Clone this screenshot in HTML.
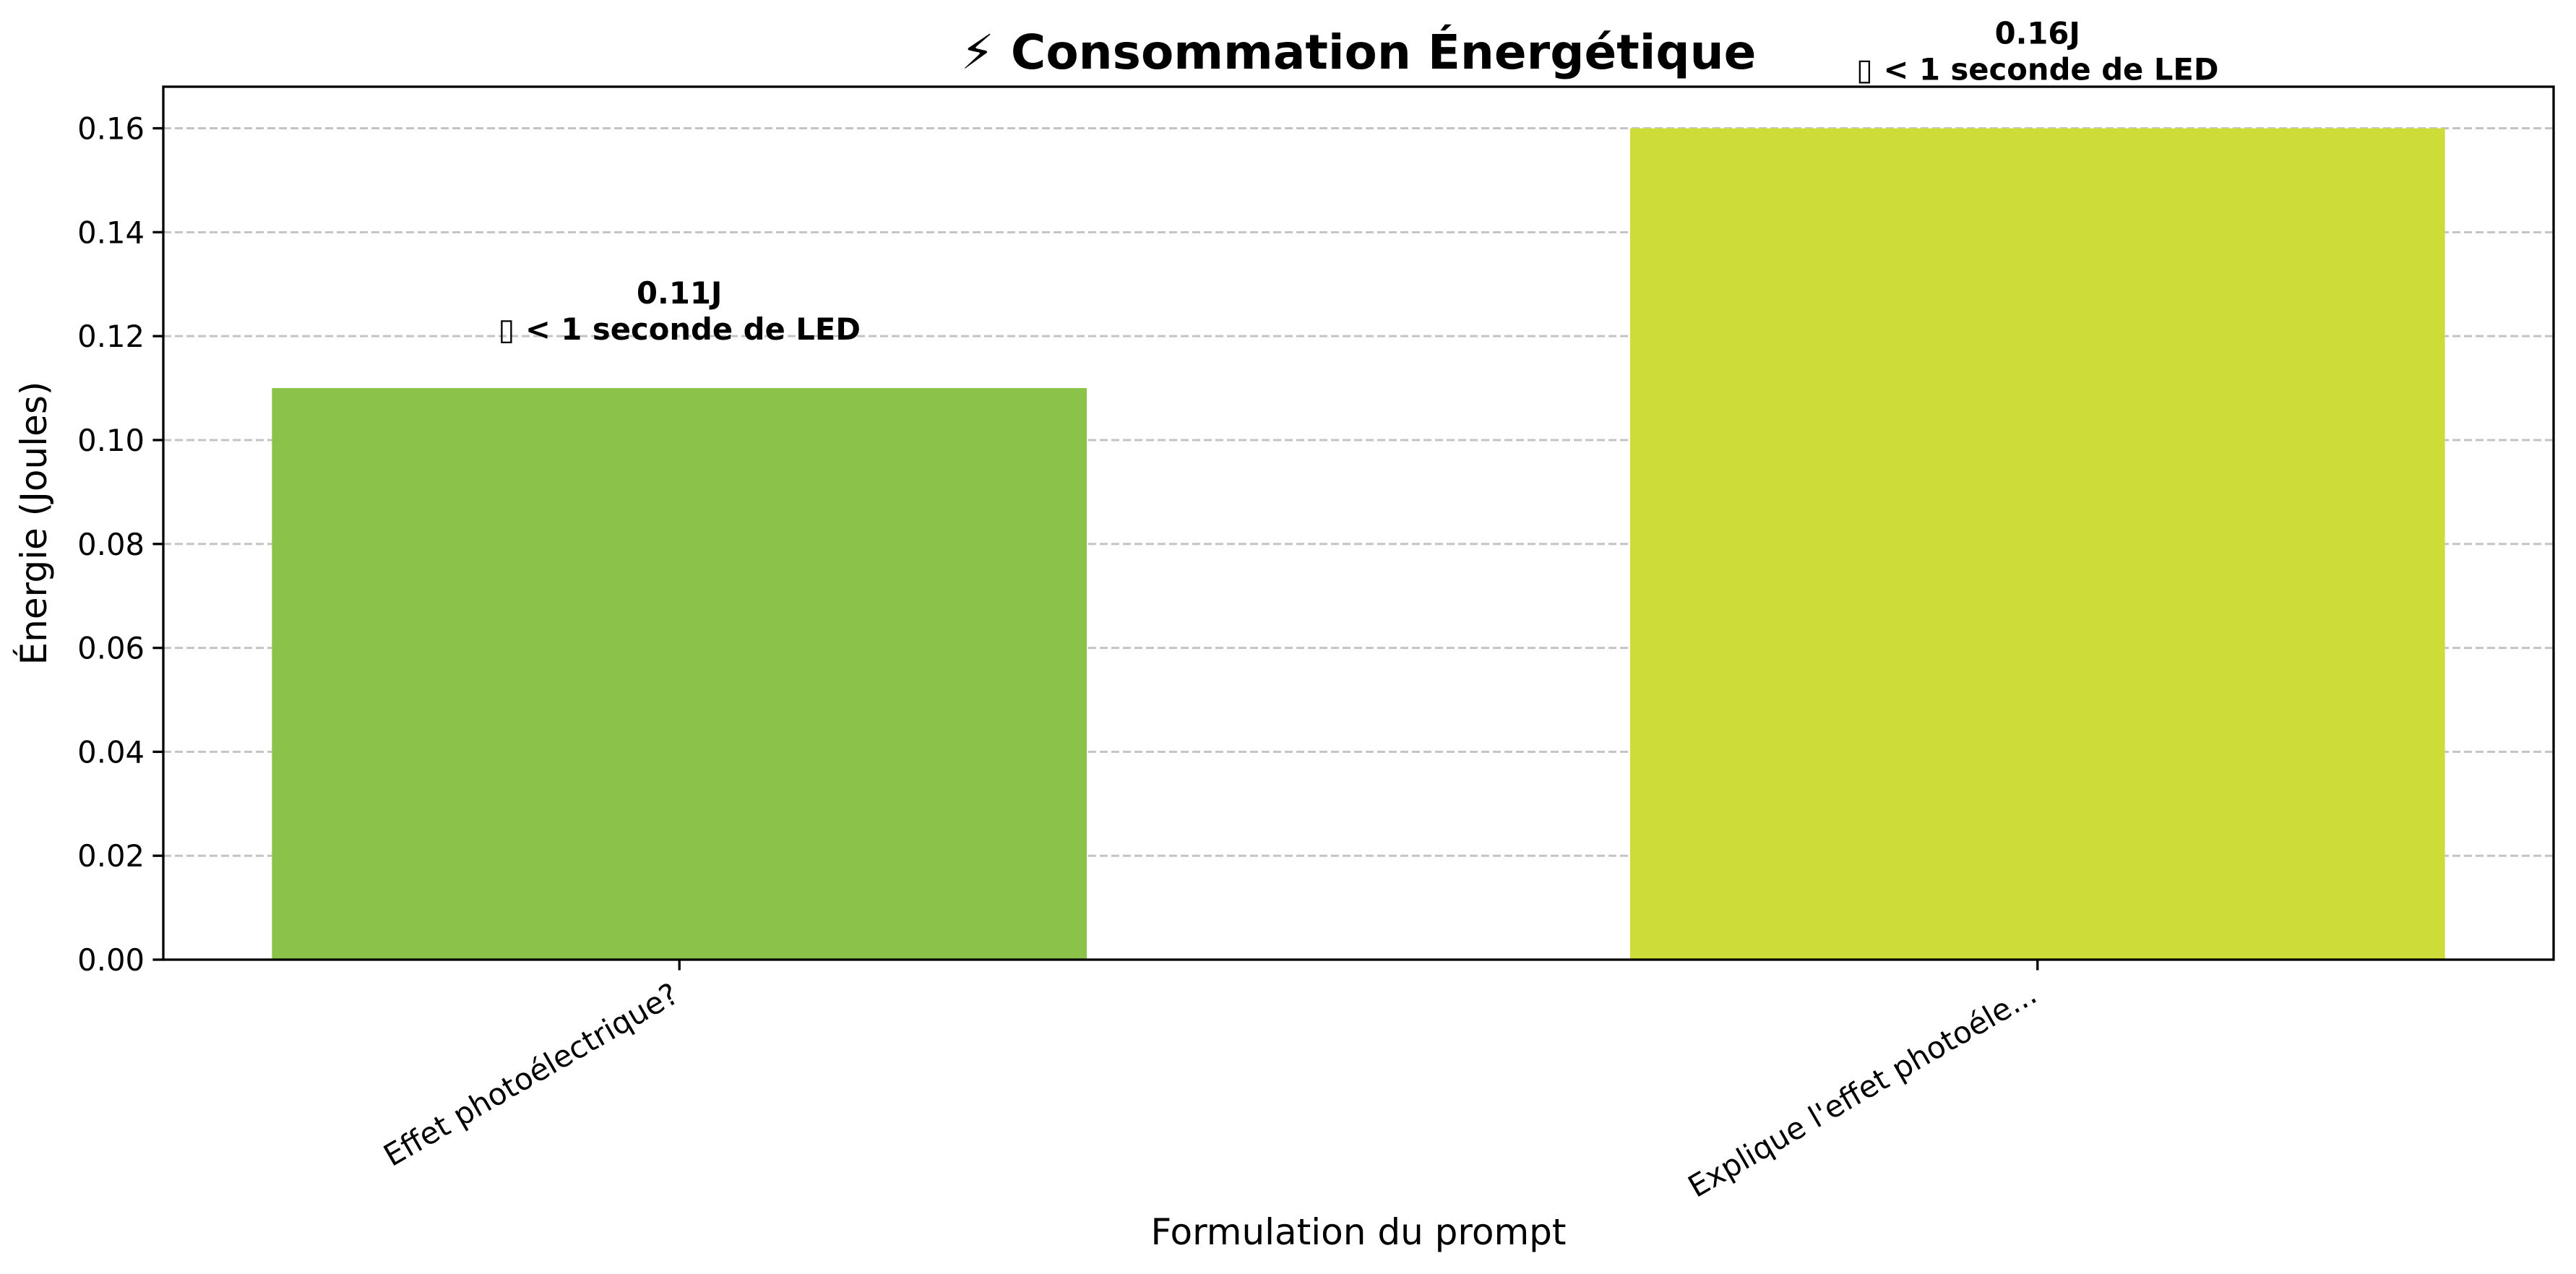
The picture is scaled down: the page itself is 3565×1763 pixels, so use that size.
<!DOCTYPE html>
<html><head><meta charset="utf-8"><style>
html,body{margin:0;padding:0;background:#fff;}
svg{display:block;}
text{font-family:"DejaVu Sans","Liberation Sans",sans-serif;}
</style></head><body>
<svg id="chart" width="3565" height="1763" viewBox="0 0 3565 1763" xmlns="http://www.w3.org/2000/svg">
<rect width="3565" height="1763" fill="#fff"/>
<text x="1880" y="95" text-anchor="middle" font-size="66" font-weight="bold">⚡ Consommation Énergétique</text>
<g id="grid"></g>
<g id="bars"></g>
<g id="annotations"></g>
<g id="yaxis"></g>
<g id="xaxis"></g>
<rect x="226" y="120" width="3308" height="1208" fill="none" stroke="#000" stroke-width="3.3"/>
<text transform="translate(64,724) rotate(-90)" text-anchor="middle" font-size="50">Énergie (Joules)</text>
<text x="1880" y="1722" text-anchor="middle" font-size="50">Formulation du prompt</text>
</svg>
<script>
const categories = ["Effet photoélectrique?", "Explique l'effet photoéle..."];
const energyValues = [0.11, 0.16];
const valueLabels = ["0.11J", "0.16J"];
const comparisonLabels = ["▯ < 1 seconde de LED", "▯ < 1 seconde de LED"];
const yTicks = [0, 0.02, 0.04, 0.06, 0.08, 0.10, 0.12, 0.14, 0.16];
const barColors = ["#8bc34a", "#cddc39"];

const NS = "http://www.w3.org/2000/svg";
const plotL = 226, plotR = 3534, plotT = 120, plotB = 1328;
const xMin = -0.38, xMax = 1.38, yMin = 0, yMax = 0.168;
function xs(v){ return plotL + (v - xMin) / (xMax - xMin) * (plotR - plotL); }
function ys(v){ return plotB - (v - yMin) / (yMax - yMin) * (plotB - plotT); }
function mk(tag, attrs, parent){
  const e = document.createElementNS(NS, tag);
  for (const k in attrs) e.setAttribute(k, attrs[k]);
  parent.appendChild(e);
  return e;
}
const grid = document.getElementById('grid');
const yaxis = document.getElementById('yaxis');
yTicks.forEach(t => {
  const y = ys(t);
  if (t > 0) {
    const g = mk('line', {x1: plotL, x2: plotR, y1: y, y2: y, stroke: '#c4c4c4', 'stroke-width': 3, 'stroke-dasharray': '11 5'}, grid);
    
    
  }
  const tk = mk('line', {x1: plotL - 14.6, x2: plotL, y1: y, y2: y, stroke: '#000', 'stroke-width': 3.3}, yaxis);
  
  
  const lb = mk('text', {x: plotL - 26, y: y + 15, 'text-anchor': 'end', 'font-size': 41.7}, yaxis);
  lb.textContent = t.toFixed(2);
  
  
});
const bars = document.getElementById('bars');
const ann = document.getElementById('annotations');
const xaxis = document.getElementById('xaxis');
const barW = 0.6;
categories.forEach((c, i) => {
  const x0 = xs(i - barW / 2), x1 = xs(i + barW / 2);
  const b = mk('rect', {x: x0, y: ys(energyValues[i]), width: x1 - x0, height: ys(0) - ys(energyValues[i]), fill: barColors[i]}, bars);
  
  
  const cx = xs(i);
  const top = ys(energyValues[i]);
  const a1 = mk('text', {x: cx, y: top - 117, 'text-anchor': 'middle', 'font-size': 41.7, 'font-weight': 'bold'}, ann);
  a1.textContent = valueLabels[i];
  
  
  const a2 = mk('text', {x: cx, y: top - 67, 'text-anchor': 'middle', 'font-size': 41.7, 'font-weight': 'bold'}, ann);
  a2.textContent = comparisonLabels[i];
  
  
  const tk = mk('line', {x1: cx, x2: cx, y1: plotB, y2: plotB + 14.6, stroke: '#000', 'stroke-width': 3.3}, xaxis);
  
  
  const lb = mk('text', {transform: 'translate(' + (cx + 2) + ',' + (plotB + 56) + ') rotate(-30)', 'text-anchor': 'end', 'font-size': 41.7}, xaxis);
  lb.textContent = c;
  
  
});
</script>
</body></html>
